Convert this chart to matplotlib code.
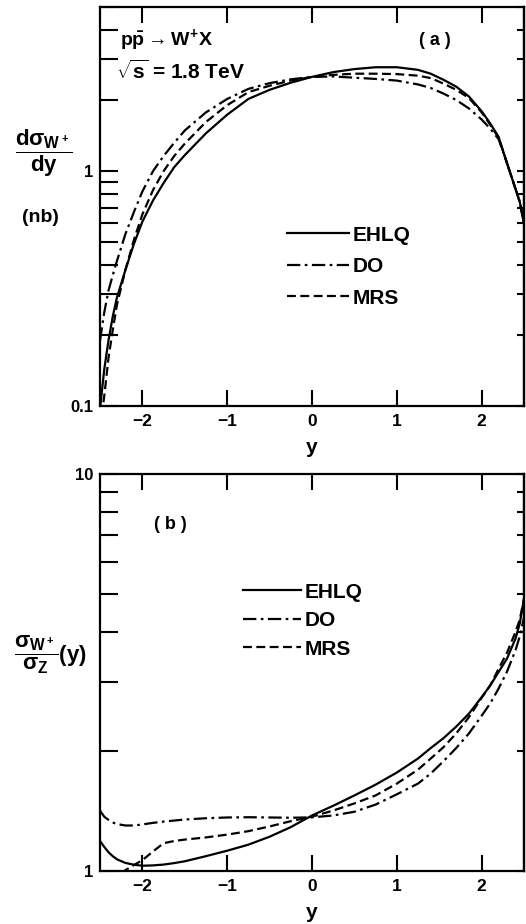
import numpy as np
import matplotlib
matplotlib.use("Agg")
import matplotlib.pyplot as plt

plt.rcParams['font.family'] = ['Liberation Sans', 'DejaVu Sans']
plt.rcParams['font.weight'] = 'bold'
plt.rcParams['mathtext.fontset'] = 'custom'
plt.rcParams['mathtext.rm'] = 'Liberation Sans:bold'
plt.rcParams['mathtext.it'] = 'Liberation Sans:bold'
plt.rcParams['mathtext.bf'] = 'Liberation Sans:bold'
plt.rcParams['mathtext.sf'] = 'Liberation Sans:bold'

# rapidity points
y_vals = [-2.5, -2.45, -2.4, -2.35, -2.3, -2.2, -2.1, -2.0, -1.875, -1.75, -1.625, -1.5,
          -1.25, -1.0, -0.75, -0.5, -0.25, 0.0, 0.25, 0.5, 0.75, 1.0, 1.25, 1.4, 1.55,
          1.7, 1.85, 2.0, 2.1, 2.2, 2.3, 2.4, 2.45, 2.5]

# (a) d sigma(W+)/dy in nb
ehlq_a = [0.097, 0.143, 0.19, 0.24, 0.29, 0.38, 0.49, 0.61, 0.75, 0.89, 1.04, 1.17,
          1.45, 1.74, 2.03, 2.22, 2.38, 2.52, 2.64, 2.72, 2.77, 2.77, 2.70, 2.60, 2.45,
          2.29, 2.08, 1.80, 1.60, 1.40, 1.08, 0.84, 0.74, 0.6]
do_a = [0.19, 0.25, 0.31, 0.36, 0.415, 0.54, 0.67, 0.82, 1.0, 1.16, 1.32, 1.49,
        1.78, 2.03, 2.24, 2.37, 2.46, 2.52, 2.53, 2.50, 2.47, 2.43, 2.34, 2.26, 2.14,
        2.01, 1.85, 1.66, 1.52, 1.37, 1.08, 0.84, 0.74, 0.6]
mrs_a = [0.08, 0.11, 0.16, 0.21, 0.27, 0.38, 0.51, 0.655, 0.83, 1.0, 1.16, 1.31,
         1.62, 1.91, 2.17, 2.31, 2.43, 2.52, 2.57, 2.60, 2.60, 2.59, 2.55, 2.49, 2.36,
         2.22, 2.05, 1.78, 1.58, 1.39, 1.08, 0.84, 0.74, 0.6]

# (b) sigma(W+)/sigma(Z) ratio
ehlq_b = [1.19, 1.15, 1.115, 1.09, 1.07, 1.048, 1.037, 1.031, 1.033, 1.038, 1.047, 1.058,
          1.09, 1.125, 1.165, 1.22, 1.29, 1.38, 1.46, 1.55, 1.65, 1.77, 1.92, 2.04, 2.16,
          2.31, 2.49, 2.74, 2.93, 3.17, 3.43, 3.85, 4.2, 4.85]
do_b = [1.42, 1.37, 1.345, 1.325, 1.313, 1.302, 1.302, 1.31, 1.322, 1.332, 1.34, 1.348,
        1.358, 1.364, 1.366, 1.364, 1.362, 1.365, 1.38, 1.41, 1.47, 1.56, 1.66, 1.76, 1.89,
        2.04, 2.22, 2.46, 2.64, 2.88, 3.18, 3.6, 3.9, 4.35]
mrs_b = [0.9, 0.915, 0.93, 0.948, 0.965, 1.005, 1.035, 1.065, 1.12, 1.175, 1.19, 1.20,
         1.215, 1.235, 1.26, 1.295, 1.335, 1.37, 1.42, 1.48, 1.55, 1.66, 1.80, 1.92, 2.05,
         2.22, 2.44, 2.73, 2.93, 3.23, 3.55, 4.0, 4.3, 4.85]

labels = ['EHLQ', 'DO', 'MRS']
styles = ['-', (0, (6, 2, 1.2, 2)), (0, (4, 2))]
x_ticks = [-2, -1, 0, 1, 2]

fig = plt.figure(figsize=(5.26, 9.24), dpi=100)
ax1 = fig.add_axes([100/526, 518/924, 424/526, 399/924])
ax2 = fig.add_axes([100/526, 53/924, 424/526, 397/924])


def style_axes(ax, ylo, yhi, ylabels):
    ax.set_yscale('log')
    ax.set_xlim(-2.5, 2.5)
    ax.set_xticks(x_ticks)
    ax.set_xticklabels([str(t).replace('-', '\u2212') for t in x_ticks])
    ax.set_yticks([ylo, ylo*10])
    ax.set_yticklabels(ylabels)
    ax.yaxis.set_minor_locator(matplotlib.ticker.LogLocator(base=10, subs=np.arange(2, 10)))
    ax.yaxis.set_minor_formatter(matplotlib.ticker.NullFormatter())
    ax.set_ylim(ylo, yhi)
    for s in ax.spines.values():
        s.set_linewidth(1.6)
    ax.tick_params(axis='x', which='both', direction='in', top=True, length=11.5,
                   width=1.5, labelsize=12.5, pad=6)
    ax.tick_params(axis='y', which='both', direction='in', left=True, right=False,
                   length=13, width=1.5, labelsize=12, pad=5)
    sec = ax.secondary_yaxis('right')
    sec.tick_params(axis='y', which='both', direction='in', length=5, width=1.5,
                    labelright=False)
    sec.spines['right'].set_linewidth(1.6)
    ax.set_xlabel('y', fontsize=15, fontweight='bold', labelpad=6)


# ---- panel (a)
for vals, ls, lab in zip([ehlq_a, do_a, mrs_a], styles, labels):
    ax1.plot(y_vals, vals, color='black', lw=1.6, linestyle=ls, label=lab)
style_axes(ax1, 0.1, 5, ['0.1', '1'])
ax1.legend(loc='upper left', bbox_to_anchor=(0.441, 0.452), frameon=False,
           borderpad=0, borderaxespad=0, handlelength=3.0, handletextpad=0.15,
           labelspacing=0.6, prop={'size': 15, 'weight': 'bold'})
ax1.text(0.047, 0.917, r'$p\bar{p}\rightarrow W^{+}X$', transform=ax1.transAxes,
         fontsize=14, va='center', ha='left')
ax1.text(0.037, 0.840, r'$\sqrt{s}$ = 1.8 TeV', transform=ax1.transAxes,
         fontsize=15, va='center', ha='left')
ax1.text(0.79, 0.917, '( a )', transform=ax1.transAxes, fontsize=13,
         va='center', ha='center')
fig.text(44/526, 1 - 153/924, r'$\dfrac{d\sigma_{W^+}}{dy}$', fontsize=16,
         ha='center', va='center')
fig.text(40/526, 1 - 217/924, '(nb)', fontsize=14, ha='center', va='center')

# ---- panel (b)
for vals, ls, lab in zip([ehlq_b, do_b, mrs_b], styles, labels):
    ax2.plot(y_vals, vals, color='black', lw=1.6, linestyle=ls, label=lab)
style_axes(ax2, 1, 10, ['1', '10'])
ax2.legend(loc='upper left', bbox_to_anchor=(0.337, 0.726), frameon=False,
           borderpad=0, borderaxespad=0, handlelength=2.8, handletextpad=0.15,
           labelspacing=0.45, prop={'size': 15, 'weight': 'bold'})
ax2.text(0.165, 0.872, '( b )', transform=ax2.transAxes, fontsize=13,
         va='center', ha='center')
fig.text(50/526, 1 - 655/924, r'$\dfrac{\sigma_{W^+}}{\sigma_Z}(y)$', fontsize=16,
         ha='center', va='center')

fig.savefig('out.png', dpi=100)
